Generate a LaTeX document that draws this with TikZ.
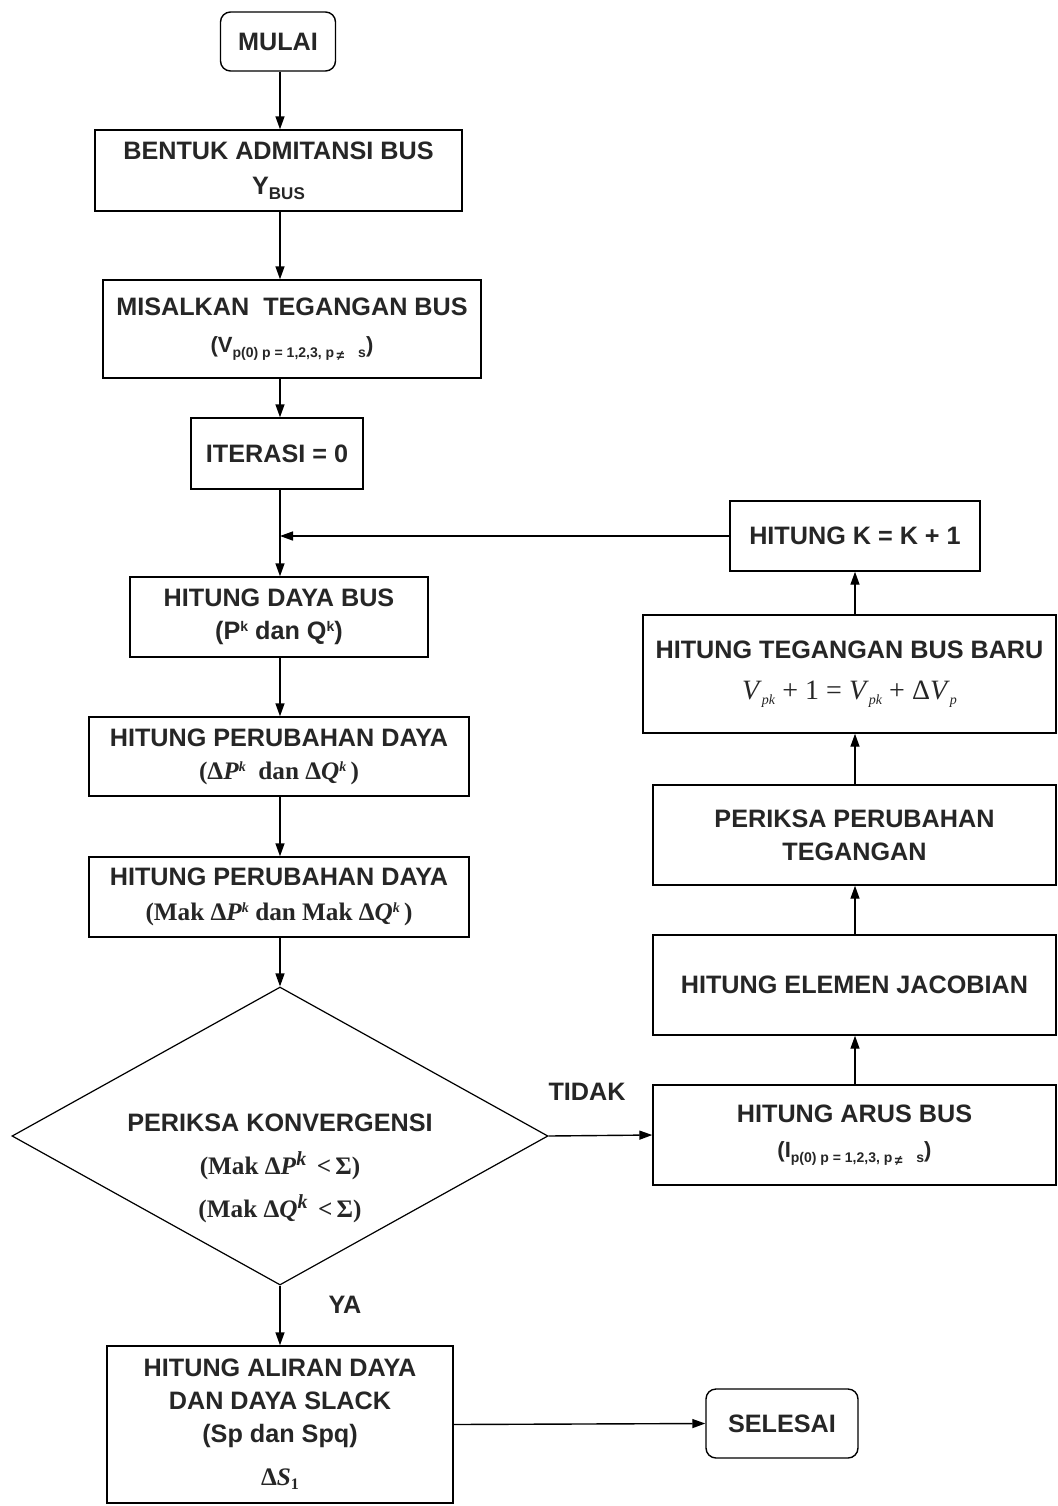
\documentclass[tikz,border=0pt]{standalone}
\usepackage{fontspec}
\setmainfont{Liberation Sans}
\newfontfamily\serifB{Liberation Serif}
\usetikzlibrary{arrows.meta,shapes.geometric}
\newcommand\fsz{\fontsize{12.6}{16.5}\selectfont\bfseries}
\newcommand\fserif{\serifB\fontsize{12.6}{16.5}\selectfont\bfseries}
\begin{document}
\begin{tikzpicture}[x=0.5pt,y=-0.5pt,
  every node/.style={text=black!85},
  box/.style={draw, rectangle, line width=0.7pt, inner sep=0pt, align=center, font=\fsz},
  term/.style={box, rounded corners=5pt},
  arr/.style={draw, line width=0.7pt, -{Triangle[length=6.5pt,width=4.5pt]}},
  lbl/.style={font=\fsz}
]
\useasboundingbox (0,0) rectangle (1058,1506);
\fill[white] (0,0) rectangle (1058,1506);
\coordinate (spine) at (280,0);
\coordinate (rspine) at (855,0);

\node[term, minimum width=57.5pt, minimum height=29.5pt] (mulai) at (278,41.5) {MULAI};
\node[box, minimum width=183.5pt, minimum height=40.5pt] (bentuk) at (278.5,170.5)
  {BENTUK ADMITANSI BUS\\[1pt] Y{\fontsize{8.5}{9}\selectfont\raisebox{-2.5pt}{BUS}}};
\node[box, minimum width=189pt, minimum height=49pt] (misal) at (292,329)
  {MISALKAN\ \ TEGANGAN BUS\\[2pt]
   {\fontsize{11}{12}\selectfont(V{\fontsize{7}{8}\selectfont\raisebox{-2.5pt}{p(0) p = 1,2,3, p\,\raisebox{-1.5pt}{≠}\quad s}})}};
\node[box, minimum width=86pt, minimum height=35.5pt] (iter) at (277,453.5) {ITERASI = 0};
\node[box, minimum width=149pt, minimum height=40pt] (daya) at (279,617)
  {HITUNG DAYA BUS\\[0pt] (P{\fontsize{7}{8}\selectfont\raisebox{4pt}{k}} dan Q{\fontsize{7}{8}\selectfont\raisebox{4pt}{k}})};
\node[box, minimum width=190pt, minimum height=39.5pt] (per1) at (279,756.5)
  {HITUNG PERUBAHAN DAYA\\[0pt] {\fserif(Δ\textit{P}{\fontsize{7}{8}\selectfont\raisebox{4pt}{\textit{k}}}\ \ dan Δ\textit{Q}{\fontsize{7}{8}\selectfont\raisebox{4pt}{\textit{k}}}\,)}};
\node[box, minimum width=190pt, minimum height=40pt] (per2) at (279,897)
  {HITUNG PERUBAHAN DAYA\\[1pt] {\fserif(Mak Δ\textit{P}{\fontsize{7}{8}\selectfont\raisebox{4pt}{\textit{k}}}\ dan Mak Δ\textit{Q}{\fontsize{7}{8}\selectfont\raisebox{4pt}{\textit{k}}}\,)}};
\node[diamond, draw, line width=0.6pt, inner sep=0pt, minimum width=268pt, minimum height=149pt] (conv) at (280,1136) {};
\node[align=center, font=\fsz] (convtxt) at (280,1168)
  {PERIKSA KONVERGENSI\\[5pt]
   {\fserif(Mak Δ\textit{P}{\fontsize{10}{10}\selectfont\raisebox{4.5pt}{\textit{k}}} \,<\,Σ)}\\[5pt]
   {\fserif(Mak Δ\textit{Q}{\fontsize{10}{10}\selectfont\raisebox{4.5pt}{\textit{k}}} \,<\,Σ)}};
\node[box, minimum width=173pt, minimum height=78.5pt] (aliran) at (280,1424.5)
  {HITUNG ALIRAN DAYA\\ DAN DAYA SLACK\\ (Sp dan Spq)\\[5pt] {\fserif Δ\textit{S}{\fontsize{8}{8}\selectfont\raisebox{-2pt}{1}}}};
\node[term, minimum width=76pt, minimum height=34.5pt] (selesai) at (782,1423.5) {SELESAI};

\node[box, minimum width=201.5pt, minimum height=50pt] (arus) at (854.5,1135)
  {HITUNG ARUS BUS\\[1pt]
   {\fontsize{11}{12}\selectfont(I{\fontsize{7}{8}\selectfont\raisebox{-2.5pt}{p(0) p = 1,2,3, p\,\raisebox{-1.5pt}{≠}\quad s}})}};
\node[box, minimum width=201.5pt, minimum height=50pt] (jac) at (854.5,985) {HITUNG ELEMEN JACOBIAN};
\node[box, minimum width=201.5pt, minimum height=50pt] (periksa) at (854.5,835) {PERIKSA PERUBAHAN\\ TEGANGAN};
\node[box, minimum width=206.5pt, minimum height=59pt] (baru) at (849.5,674)
  {HITUNG TEGANGAN BUS BARU\\[4pt]
   {\serifB\mdseries\fontsize{14}{15}\selectfont\textit{V}{\fontsize{7}{8}\selectfont\raisebox{-2.5pt}{\textit{pk}}} + 1 = \textit{V}{\fontsize{7}{8}\selectfont\raisebox{-2.5pt}{\textit{pk}}} + Δ\textit{V}{\fontsize{7}{8}\selectfont\raisebox{-2.5pt}{\textit{p}}}}};
\node[box, minimum width=125pt, minimum height=35pt] (kbox) at (855,536) {HITUNG K = K + 1};

\node[lbl] (tidak) at (587,1092) {TIDAK};
\node[lbl] (ya) at (345,1305) {YA};

\draw[arr] (mulai.south -| spine) -- (bentuk.north -| spine);
\draw[arr] (bentuk.south -| spine) -- (misal.north -| spine);
\draw[arr] (misal.south -| spine) -- (iter.north -| spine);
\draw[arr] (iter.south -| spine) -- (daya.north -| spine);
\draw[arr] (kbox.west) -- (kbox.west -| spine);
\draw[arr] (daya.south -| spine) -- (per1.north -| spine);
\draw[arr] (per1.south -| spine) -- (per2.north -| spine);
\draw[arr] (per2.south -| spine) -- (conv.north);
\draw[arr] (conv.south) -- (aliran.north -| conv.south);
\draw[arr] (conv.east) -- (arus.west);
\draw[arr] (aliran.east) -- (selesai.west);
\draw[arr] (arus.north -| rspine) -- (jac.south -| rspine);
\draw[arr] (jac.north -| rspine) -- (periksa.south -| rspine);
\draw[arr] (periksa.north -| rspine) -- (baru.south -| rspine);
\draw[arr] (baru.north -| rspine) -- (kbox.south -| rspine);
\end{tikzpicture}
\end{document}
